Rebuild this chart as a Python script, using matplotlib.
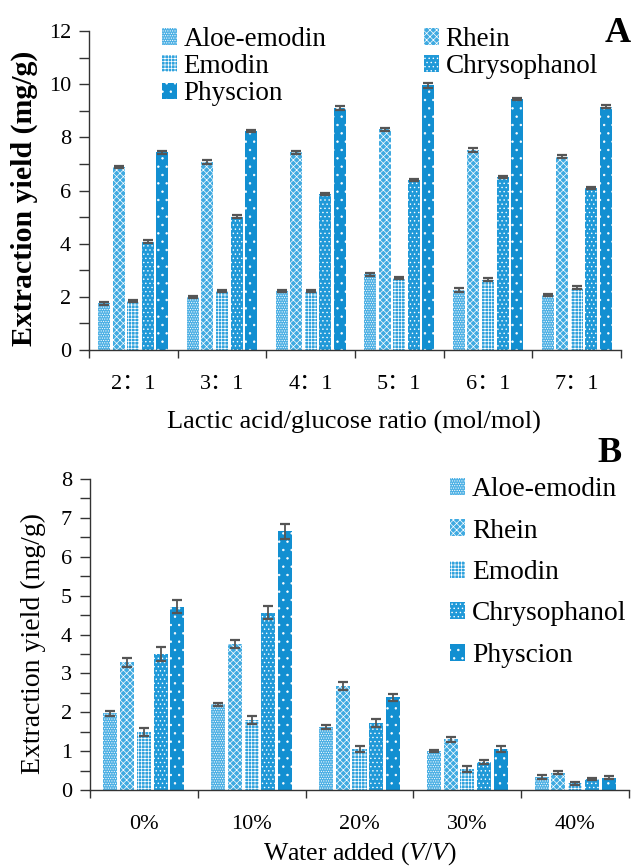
import numpy as np
import matplotlib
matplotlib.use("Agg")
import matplotlib.pyplot as plt
from matplotlib.ticker import MultipleLocator, FixedLocator

plt.rcParams['font.family'] = ['Liberation Serif', 'Noto Sans CJK SC', 'DejaVu Sans']
plt.rcParams['hatch.linewidth'] = 0.5
plt.rcParams['mathtext.fontset'] = 'custom'
plt.rcParams['mathtext.it'] = 'Liberation Serif:italic'
plt.rcParams['mathtext.rm'] = 'Liberation Serif'

compounds = ["Aloe-emodin", "Rhein", "Emodin", "Chrysophanol", "Physcion"]
colors = ["#4db0e4", "#3faae1", "#2fa2dd", "#2099d8", "#128fd1"]
hatches = [".......", "xxxxx", "+++++", "....", ".."]

# Panel A
ratios = ["2：1", "3：1", "4：1", "5：1", "6：1", "7：1"]
A_aloe = [1.75, 2.00, 2.22, 2.85, 2.25, 2.07]
A_rhein = [6.88, 7.07, 7.43, 8.30, 7.53, 7.27]
A_emodin = [1.83, 2.23, 2.22, 2.72, 2.65, 2.35]
A_chryso = [4.08, 5.02, 5.87, 6.40, 6.50, 6.08]
A_physcion = [7.43, 8.23, 9.10, 9.95, 9.45, 9.15]
A_aloe_err = [0.04, 0.04, 0.04, 0.06, 0.07, 0.04]
A_rhein_err = [0.05, 0.06, 0.06, 0.05, 0.08, 0.06]
A_emodin_err = [0.04, 0.04, 0.04, 0.04, 0.04, 0.07]
A_chryso_err = [0.06, 0.04, 0.04, 0.04, 0.04, 0.04]
A_physcion_err = [0.07, 0.04, 0.06, 0.08, 0.04, 0.06]

# Panel B
water = ["0%", "10%", "20%", "30%", "40%"]
B_aloe = [1.97, 2.21, 1.61, 1.01, 0.33]
B_rhein = [3.28, 3.75, 2.68, 1.30, 0.45]
B_emodin = [1.50, 1.80, 1.05, 0.54, 0.17]
B_chryso = [3.50, 4.56, 1.72, 0.72, 0.28]
B_physcion = [4.72, 6.65, 2.38, 1.05, 0.32]
B_aloe_err = [0.07, 0.04, 0.05, 0.02, 0.05]
B_rhein_err = [0.12, 0.10, 0.10, 0.07, 0.04]
B_emodin_err = [0.10, 0.10, 0.08, 0.07, 0.03]
B_chryso_err = [0.17, 0.17, 0.10, 0.04, 0.03]
B_physcion_err = [0.17, 0.20, 0.10, 0.08, 0.03]

W, H = 636, 868
fig = plt.figure(figsize=(W/100, H/100), dpi=100)

def px_axes(l, t, r, b):
    return fig.add_axes([l/W, 1-b/H, (r-l)/W, (b-t)/H])

axA = px_axes(89, 31, 621, 350)
axB = px_axes(90, 479, 629, 790)

def draw(ax, cats, series, errs, pitch, width, ymax, ymajor, yminor):
    x = np.arange(len(cats))
    handles = []
    for i, (vals, err) in enumerate(zip(series, errs)):
        b = ax.bar(x + (i-2)*pitch, vals, width, color=colors[i], edgecolor="white",
                   linewidth=0, hatch=hatches[i], label=compounds[i],
                   yerr=err, capsize=3.5,
                   error_kw=dict(ecolor="#555555", elinewidth=1.3, capthick=1.6))
        handles.append(b)
    ax.set_xlim(-0.5, len(cats)-0.5)
    ax.set_ylim(0, ymax)
    for s in ["top", "right"]:
        ax.spines[s].set_visible(False)
    for s in ["left", "bottom"]:
        ax.spines[s].set_color("#333333")
        ax.spines[s].set_linewidth(1.0)
    ax.xaxis.set_major_locator(FixedLocator(np.arange(len(cats)+1) - 0.5))
    ax.xaxis.set_minor_locator(FixedLocator(x))
    ax.set_xticklabels([])
    ax.set_xticklabels(cats, minor=True)
    ax.tick_params(axis="x", which="major", direction="out", length=6, width=1, color="#333333")
    ax.tick_params(axis="x", which="minor", length=0, labelsize=16, pad=18)
    ax.yaxis.set_major_locator(MultipleLocator(ymajor))
    ax.yaxis.set_minor_locator(MultipleLocator(yminor))
    ax.tick_params(axis="y", which="both", direction="out", length=7, width=1, color="#333333",
                   labelsize=16, pad=6)
    return handles

hA = draw(axA, ratios, [A_aloe, A_rhein, A_emodin, A_chryso, A_physcion],
          [A_aloe_err, A_rhein_err, A_emodin_err, A_chryso_err, A_physcion_err],
          0.164, 0.136, 12, 2, 1)
hB = draw(axB, water, [B_aloe, B_rhein, B_emodin, B_chryso, B_physcion],
          [B_aloe_err, B_rhein_err, B_emodin_err, B_chryso_err, B_physcion_err],
          0.155, 0.13, 8, 1, 0.5)

axA.set_ylabel("Extraction yield (mg/g)", fontsize=21.5, fontweight="bold")
axA.yaxis.set_label_coords((24.5-89)/532, 1-(198-31)/319)
axA.set_xlabel("Lactic acid/glucose ratio (mol/mol)", fontsize=19)
axA.xaxis.set_label_coords((354-89)/532, -(422-350)/319)
axA.xaxis.label.set_va("center")
axB.set_ylabel("Extraction yield (mg/g)", fontsize=20)
axB.yaxis.set_label_coords((33-90)/539, 1-(644-479)/311)
axB.set_xlabel("Water added ($\\mathit{V}$/$\\mathit{V}$)", fontsize=18.5)
axB.xaxis.set_label_coords((360-90)/539, -(854-790)/311)
axB.xaxis.label.set_va("center")
axA.yaxis.label.set_va("center")
axB.yaxis.label.set_va("center")

# legends
orderA = [0, 2, 4, 1, 3]
legA = fig.legend([hA[i] for i in orderA], [compounds[i] for i in orderA], ncol=2,
                  loc="upper left", bbox_to_anchor=(162/W, 1-27/H), frameon=False,
                  fontsize=19.5, handlelength=0.55, handleheight=0.55, handletextpad=0.25,
                  labelspacing=0.08, columnspacing=3.6, borderpad=0, borderaxespad=0)
legB = fig.legend(hB, compounds, loc="upper left", bbox_to_anchor=(450/W, 1-477/H),
                  frameon=False, fontsize=19.8, handlelength=0.55, handleheight=0.55,
                  handletextpad=0.25, labelspacing=0.6, borderpad=0, borderaxespad=0)

fig.text(618/W, 1-34/H, "A", fontsize=26, fontweight="bold", ha="center", va="center")
fig.text(610/W, 1-453/H, "B", fontsize=26, fontweight="bold", ha="center", va="center")

fig.savefig("out.png", dpi=100)
